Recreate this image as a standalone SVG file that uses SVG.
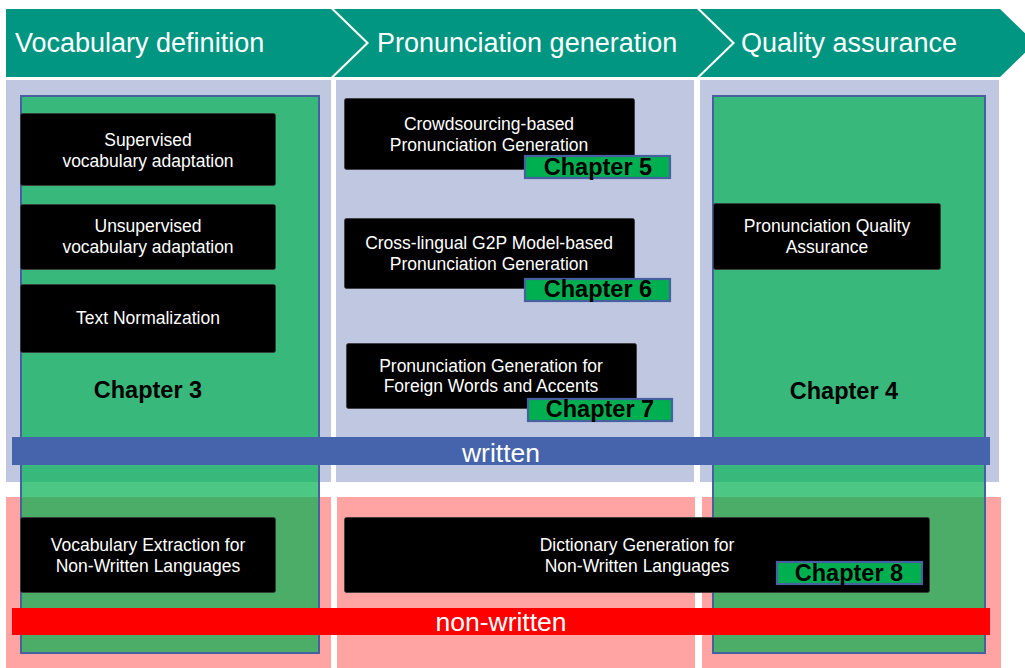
<svg xmlns="http://www.w3.org/2000/svg" width="1025" height="668" viewBox="0 0 1025 668">
<style>
.hdr{fill:#009681}
.htxt{font-family:"Liberation Sans",Arial,sans-serif;font-size:27px;fill:#ffffff}
.lav{fill:#bfc8e0}
.pink{fill:#ffa3a3}
.grn{fill:#00b050;fill-opacity:0.7;stroke:#4660a0;stroke-width:2}
.blk{fill:#000000;stroke:#3a3a3a;stroke-width:0.8}
.btxt{font-family:"Liberation Sans",Arial,sans-serif;font-size:17.5px;fill:#ffffff;text-anchor:middle}
.chap{font-family:"Liberation Sans",Arial,sans-serif;font-size:23.5px;font-weight:bold;fill:#000000;text-anchor:middle}
.tag{fill:#00b050;stroke:#4660a0;stroke-width:2.2}
.band{font-family:"Liberation Sans",Arial,sans-serif;font-size:26.5px;fill:#ffffff;text-anchor:middle}
</style>
<rect width="1025" height="668" fill="#ffffff"/>
<g id="header">
  <polygon class="hdr" points="6,9 331,9 366,43 331,77 6,77"/>
  <polygon class="hdr" points="334,9 697,9 732,43 697,77 334,77 369,43"/>
  <polygon class="hdr" points="700,9 1000,9 1035,43 1000,77 700,77 735,43"/>
  <text class="htxt" x="15" y="52">Vocabulary definition</text>
  <text class="htxt" x="377" y="52">Pronunciation generation</text>
  <text class="htxt" x="741" y="52">Quality assurance</text>
</g>
<g id="panels">
  <rect class="lav" x="6" y="80" width="325" height="402"/>
  <rect class="lav" x="336" y="80" width="358" height="402"/>
  <rect class="lav" x="700" y="80" width="299" height="402"/>
  <rect class="pink" x="6" y="497" width="325" height="171"/>
  <rect class="pink" x="337" y="497" width="358" height="171"/>
  <rect class="pink" x="702" y="497" width="299" height="171"/>
</g>
<g id="chapter3">
  <rect class="grn" x="21" y="96" width="298" height="557"/>
  <text class="chap" x="148" y="398">Chapter 3</text>
</g>
<g id="chapter4">
  <rect class="grn" x="713" y="96" width="272" height="557"/>
  <text class="chap" x="844" y="399">Chapter 4</text>
</g>
<g id="supervised">
  <rect class="blk" x="20.5" y="113.5" width="255" height="72" rx="2"/>
  <text class="btxt" x="148" y="146">Supervised</text>
  <text class="btxt" x="148" y="167">vocabulary adaptation</text>
</g>
<g id="unsupervised">
  <rect class="blk" x="20.5" y="204.5" width="255" height="65" rx="2"/>
  <text class="btxt" x="148" y="232">Unsupervised</text>
  <text class="btxt" x="148" y="253">vocabulary adaptation</text>
</g>
<g id="textnorm">
  <rect class="blk" x="20.5" y="284.5" width="255" height="68" rx="2"/>
  <text class="btxt" x="148" y="324">Text Normalization</text>
</g>
<g id="crowdsourcing">
  <rect class="blk" x="344.5" y="98.5" width="290" height="71" rx="2"/>
  <text class="btxt" x="489" y="130">Crowdsourcing-based</text>
  <text class="btxt" x="489" y="151">Pronunciation Generation</text>
  <rect class="tag" x="525" y="156" width="145" height="22"/>
  <text class="chap" x="598" y="175">Chapter 5</text>
</g>
<g id="crosslingual">
  <rect class="blk" x="344.5" y="218.5" width="290" height="70" rx="2"/>
  <text class="btxt" x="489" y="249">Cross-lingual G2P Model-based</text>
  <text class="btxt" x="489" y="270">Pronunciation Generation</text>
  <rect class="tag" x="525" y="279" width="145" height="22"/>
  <text class="chap" x="598" y="297">Chapter 6</text>
</g>
<g id="foreign">
  <rect class="blk" x="346.5" y="343.5" width="290" height="65" rx="2"/>
  <text class="btxt" x="491" y="372">Pronunciation Generation for</text>
  <text class="btxt" x="491" y="392">Foreign Words and Accents</text>
  <rect class="tag" x="528" y="399" width="144" height="22"/>
  <text class="chap" x="600" y="417">Chapter 7</text>
</g>
<g id="quality">
  <rect class="blk" x="713.5" y="203.5" width="227" height="66" rx="2"/>
  <text class="btxt" x="827" y="232">Pronunciation Quality</text>
  <text class="btxt" x="827" y="253">Assurance</text>
</g>
<g id="vocabextraction">
  <rect class="blk" x="20.5" y="517.5" width="255" height="75" rx="2"/>
  <text class="btxt" x="148" y="551">Vocabulary Extraction for</text>
  <text class="btxt" x="148" y="572">Non-Written Languages</text>
</g>
<g id="dictionary">
  <rect class="blk" x="344.5" y="517.5" width="585" height="75" rx="2"/>
  <text class="btxt" x="637" y="551">Dictionary Generation for</text>
  <text class="btxt" x="637" y="572">Non-Written Languages</text>
  <rect class="tag" x="777" y="562" width="145" height="22"/>
  <text class="chap" x="849" y="581">Chapter 8</text>
</g>
<g id="written">
  <rect x="12" y="437" width="978" height="28" fill="#4664ab"/>
  <text class="band" x="501" y="462">written</text>
</g>
<g id="nonwritten">
  <rect x="12" y="608" width="978" height="27" fill="#ff0000"/>
  <text class="band" x="501" y="631">non-written</text>
</g>
<g id="connectors"></g>
</svg>
